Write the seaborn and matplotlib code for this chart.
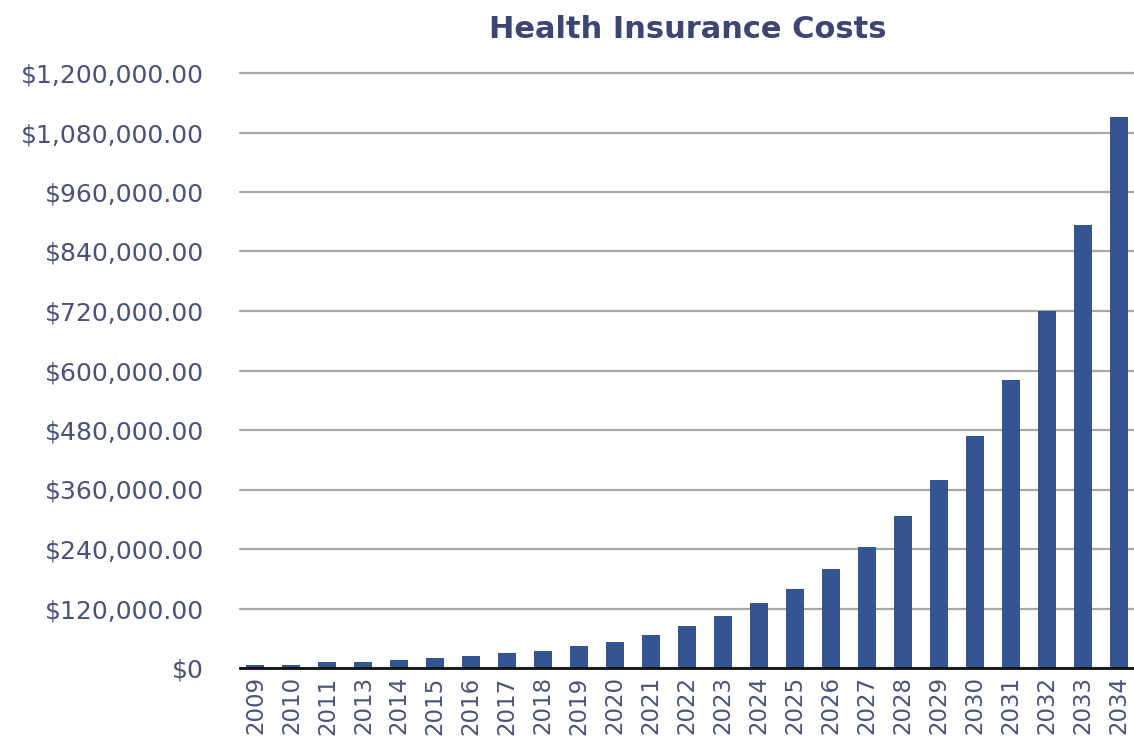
import matplotlib
matplotlib.use("Agg")
import matplotlib.pyplot as plt
import seaborn as sns
import pandas as pd
from matplotlib.ticker import FuncFormatter, FixedLocator

years = ["2009", "2010", "2011", "2013", "2014", "2015", "2016", "2017", "2018",
         "2019", "2020", "2021", "2022", "2023", "2024", "2025", "2026", "2027",
         "2028", "2029", "2030", "2031", "2032", "2033", "2034"]
costs = [6500, 7000, 12000, 12500, 17000, 21000, 25000, 30000, 34000,
         44000, 53000, 67000, 85000, 104000, 131000, 159000, 200000, 245000,
         306000, 380000, 467000, 581000, 721000, 894000, 1111000]
y_ticks = [0, 120000, 240000, 360000, 480000, 600000, 720000, 840000,
           960000, 1080000, 1200000]
title = "Health Insurance Costs"

df = pd.DataFrame({"year": years, "cost": costs})

sns.set_theme(style="white")
plt.rcParams["font.family"] = ["DejaVu Sans"]

fig = plt.figure(figsize=(11.34, 7.37), dpi=100)
ax = fig.add_axes([240 / 1134, 1 - 668 / 737, 1 - 240 / 1134, (668 - 73) / 737])

sns.barplot(data=df, x="year", y="cost", color="#34558f", width=0.5,
            saturation=1, linewidth=0, ax=ax, zorder=3)

ax.set_ylim(0, 1200000)
ax.set_xlim(-0.43, len(years) - 1 + 0.42)
ax.yaxis.set_major_locator(FixedLocator(y_ticks))


def fmt(v, pos):
    if v == 0:
        return "$0"
    return "${:,.2f}".format(v)


ax.yaxis.set_major_formatter(FuncFormatter(fmt))
ax.grid(axis="y", color="#a9a9a9", linewidth=1.6, zorder=0)
ax.grid(axis="x", visible=False)
for gl in ax.get_ygridlines():
    gl.set_clip_on(False)
for s in ["top", "right", "left"]:
    ax.spines[s].set_visible(False)
ax.spines["bottom"].set_color("#111111")
ax.spines["bottom"].set_linewidth(2)
ax.spines["bottom"].set_zorder(4)

ax.set_xlabel("")
ax.set_ylabel("")
ax.tick_params(axis="y", length=0, pad=26, labelsize=18, labelcolor="#4b5277")
ax.tick_params(axis="x", length=0, pad=6, labelsize=16.5, labelcolor="#4b5277",
               labelrotation=90)

fig.text(688 / 1134, 1 - 30 / 737, title, ha="center", va="center",
         fontsize=22, fontweight="bold", color="#3d4673")

fig.savefig("out.png", dpi=100, facecolor="white")
